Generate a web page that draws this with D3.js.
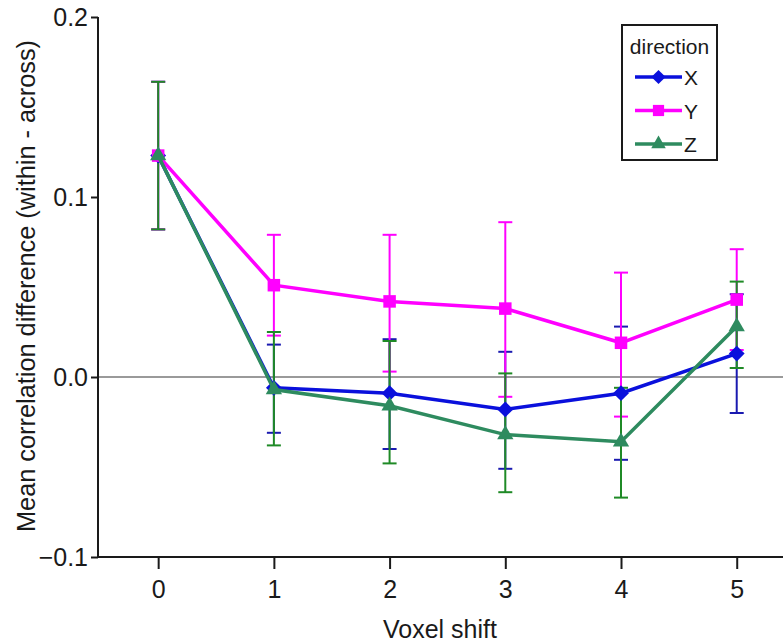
<!DOCTYPE html>
<html lang="en">
<head>
    <meta charset="UTF-8">
    <title>Voxel shift correlation difference</title>
    <script src="https://d3js.org/d3.v7.min.js"></script>
    <style>
        body { margin: 0; background: #fff; font-family: "Liberation Sans", Arial, sans-serif; }
        svg { display: block; }
        .axis text { font-family: "Liberation Sans", Arial, sans-serif; font-size: 25px; fill: #1a1a1a; }
        .axis path, .axis line { stroke: #1a1a1a; stroke-width: 2px; }
    </style>
</head>
<body>
    <svg id="chart" width="783" height="644"></svg>

    <script>
        // data
        const shifts = [0, 1, 2, 3, 4, 5];
        const xMean = [0.123, -0.006, -0.009, -0.018, -0.009, 0.013];
        const xLow  = [0.082, -0.031, -0.040, -0.051, -0.046, -0.020];
        const xHigh = [0.164, 0.018, 0.021, 0.014, 0.028, 0.046];
        const yMean = [0.123, 0.051, 0.042, 0.038, 0.019, 0.043];
        const yLow  = [0.082, 0.023, 0.003, -0.011, -0.022, 0.015];
        const yHigh = [0.164, 0.079, 0.079, 0.086, 0.058, 0.071];
        const zMean = [0.123, -0.007, -0.016, -0.032, -0.036, 0.028];
        const zLow  = [0.082, -0.038, -0.048, -0.064, -0.067, 0.005];
        const zHigh = [0.164, 0.025, 0.020, 0.002, -0.006, 0.053];
        const yTicks = [-0.1, 0.0, 0.1, 0.2];

        const series = [
            { name: "X", mean: xMean, low: xLow, high: xHigh, color: "#0a10dc", err: "#1a1ab0", symbol: d3.symbolDiamond2, size: 160 },
            { name: "Y", mean: yMean, low: yLow, high: yHigh, color: "#ff00ff", err: "#ff00ff", symbol: d3.symbolSquare2, size: 200 },
            { name: "Z", mean: zMean, low: zLow, high: zHigh, color: "#2e8b5f", err: "#1f8a26", symbol: d3.symbolTriangle2, size: 190 }
        ];

        const svg = d3.select("#chart");
        const plotLeft = 98, plotBottom = 557, plotTop = 17, plotRight = 783;

        const x = d3.scaleLinear().domain([-0.52, 5.4]).range([plotLeft, plotRight]);
        const y = d3.scaleLinear().domain([-0.1, 0.2]).range([plotBottom, plotTop]);

        // zero reference line
        svg.append("line")
            .attr("x1", plotLeft).attr("x2", plotRight)
            .attr("y1", y(0)).attr("y2", y(0))
            .attr("stroke", "#9a9a9a").attr("stroke-width", 2);

        // axes
        const xAxis = svg.append("g").attr("class", "axis")
            .attr("transform", `translate(0,${plotBottom})`)
            .call(d3.axisBottom(x).tickValues(shifts).tickFormat(d3.format("d")).tickSize(12).tickPadding(11));
        xAxis.select(".domain").attr("d", `M${plotLeft},0H${plotRight}`);

        const yAxis = svg.append("g").attr("class", "axis")
            .attr("transform", `translate(${plotLeft},0)`)
            .call(d3.axisLeft(y).tickValues(yTicks).tickFormat(d3.format(".1f")).tickSize(7).tickPadding(3));
        yAxis.select(".domain").attr("d", `M0,${plotTop}V${plotBottom}`);

        svg.append("text")
            .attr("x", 440).attr("y", 638)
            .attr("text-anchor", "middle")
            .attr("font-size", 25).attr("fill", "#1a1a1a")
            .text("Voxel shift");

        svg.append("text")
            .attr("transform", "translate(35,286) rotate(-90)")
            .attr("text-anchor", "middle")
            .attr("font-size", 25).attr("fill", "#1a1a1a")
            .attr("textLength", 492).attr("lengthAdjust", "spacingAndGlyphs")
            .text("Mean correlation difference (within - across)");

        const line = d3.line().x((d, i) => x(shifts[i])).y(d => y(d));
        const cap = 7;

        // error bars first, then lines and markers
        series.forEach(s => {
            const g = svg.append("g").attr("stroke", s.err).attr("stroke-width", 2);
            shifts.forEach((v, i) => {
                g.append("line").attr("x1", x(v)).attr("x2", x(v))
                    .attr("y1", y(s.low[i])).attr("y2", y(s.high[i]));
                g.append("line").attr("x1", x(v) - cap).attr("x2", x(v) + cap)
                    .attr("y1", y(s.low[i])).attr("y2", y(s.low[i]));
                g.append("line").attr("x1", x(v) - cap).attr("x2", x(v) + cap)
                    .attr("y1", y(s.high[i])).attr("y2", y(s.high[i]));
            });
        });

        series.forEach(s => {
            svg.append("path")
                .attr("d", line(s.mean))
                .attr("fill", "none")
                .attr("stroke", s.color).attr("stroke-width", 3.5);
            svg.append("g").selectAll("path")
                .data(s.mean)
                .join("path")
                .attr("transform", (d, i) => `translate(${x(shifts[i])},${y(d)})`)
                .attr("d", d3.symbol().type(s.symbol).size(s.size))
                .attr("fill", s.color);
        });

        // legend
        const lg = svg.append("g").attr("transform", "translate(622,25)");
        lg.append("rect").attr("width", 95).attr("height", 135)
            .attr("fill", "#fff").attr("stroke", "#1a1a1a").attr("stroke-width", 2);
        lg.append("text").attr("x", 47.5).attr("y", 29).attr("text-anchor", "middle")
            .attr("font-size", 21).attr("fill", "#1a1a1a").text("direction");
        series.forEach((s, i) => {
            const ly = 52 + i * 33.5;
            lg.append("line").attr("x1", 13).attr("x2", 60).attr("y1", ly).attr("y2", ly)
                .attr("stroke", s.color).attr("stroke-width", 3.5);
            lg.append("path").attr("transform", `translate(36.5,${ly})`)
                .attr("d", d3.symbol().type(s.symbol).size(s.size * 0.8))
                .attr("fill", s.color);
            lg.append("text").attr("x", 62).attr("y", ly + 8)
                .attr("font-size", 21).attr("fill", "#1a1a1a").text(s.name);
        });
    </script>
</body>
</html>
